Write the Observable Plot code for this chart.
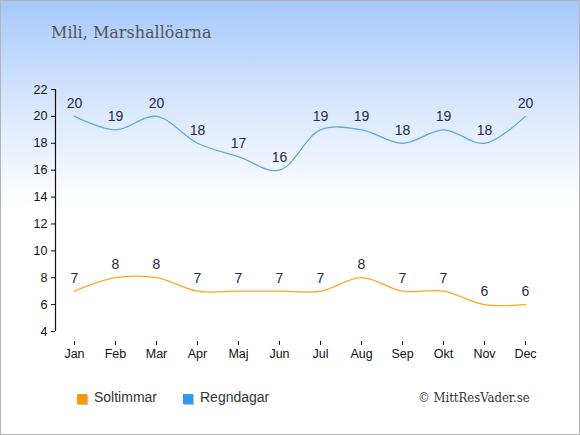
<!DOCTYPE html>
<html>
<head>
<meta charset="utf-8">
<script src="https://cdn.jsdelivr.net/npm/d3@7"></script>
<script src="https://cdn.jsdelivr.net/npm/@observablehq/plot@0.6"></script>
<style>
  html, body { margin: 0; padding: 0; background: #fff; }
  #frame {
    position: relative; width: 578px; height: 433px;
    border: 1px solid #b4b4b4;
    background: linear-gradient(to bottom, #a7c8fc 0px, #dbe8fd 110px, #ffffff 205px, #ffffff 100%);
    overflow: hidden;
  }
  #title {
    position: absolute; left: 50px; top: 22px;
    font-family: "DejaVu Serif", "Liberation Serif", serif; font-size: 16px; color: #555;
  }
  #chart { position: absolute; left: 0; top: 0; }
  .leg { position: absolute; top: 388px; font-family: "Liberation Sans", Arial, sans-serif; font-size: 14px; color: #333; }
  .sw { position: absolute; width: 10px; height: 10px; top: 393px; box-shadow: 1px 1px 1px rgba(0,0,0,0.25); }
  #copy { position: absolute; left: 417px; top: 389px; font-family: "DejaVu Serif", "Liberation Serif", serif; font-stretch: condensed; font-size: 13px; color: #333; }
</style>
</head>
<body>
<div id="frame">
  <div id="title">Mili, Marshallöarna</div>
  <div id="chart"></div>
  <div class="sw" style="left:76px;background:#ff9900"></div>
  <div class="leg" style="left:93px">Soltimmar</div>
  <div class="sw" style="left:182px;background:#3399ee"></div>
  <div class="leg" style="left:199px">Regndagar</div>
  <div id="copy">© MittResVader.se</div>
</div>
<script>
const months = ["Jan","Feb","Mar","Apr","Maj","Jun","Jul","Aug","Sep","Okt","Nov","Dec"];
const soltimmar = [7,8,8,7,7,7,7,8,7,7,6,6];
const regndagar = [20,19,20,18,17,16,19,19,18,19,18,20];
const yTicks = [4,6,8,10,12,14,16,18,20,22];

const sun = months.map((m,i) => ({month: m, value: soltimmar[i]}));
const rain = months.map((m,i) => ({month: m, value: regndagar[i]}));

const labelColor = "#1d2b4c";
const plot = Plot.plot({
  width: 578,
  height: 380,
  marginTop: 88,
  marginBottom: 40,
  marginLeft: 54,
  marginRight: 54,
  insetLeft: 19,
  insetBottom: 10,
  style: {background: "transparent", fontFamily: "'Liberation Sans', Arial, sans-serif", fontSize: "12px", color: "#111"},
  x: {type: "point", domain: months, padding: 0},
  y: {domain: [4, 22]},
  marks: [
    Plot.ruleX(["Jan"], {y1: 4, y2: 22, dx: -19, stroke: "#111", strokeWidth: 1.2}),
    Plot.ruleY([4], {x1: "Jan", x2: "Dec", dy: 10, stroke: "#111", strokeWidth: 1.2}),
    Plot.axisY({ticks: yTicks, tickSize: 4, tickPadding: 4, label: null, fontSize: 12.5, stroke: "#111"}),
    Plot.axisX({tickSize: 4, tickPadding: 4, label: null, fontSize: 12.5, stroke: "#111"}),
    Plot.line(rain, {x: "month", y: "value", curve: "catmull-rom", stroke: "#5aa9ec", strokeWidth: 1.3}),
    Plot.line(sun, {x: "month", y: "value", curve: "catmull-rom", stroke: "#ffa624", strokeWidth: 1.3}),
    Plot.text(rain, {x: "month", y: "value", text: d => String(d.value), dy: -13, fill: labelColor, fontSize: 14}),
    Plot.text(sun, {x: "month", y: "value", text: d => String(d.value), dy: -13, fill: labelColor, fontSize: 14})
  ]
});
document.getElementById("chart").appendChild(plot);
</script>
</body>
</html>
